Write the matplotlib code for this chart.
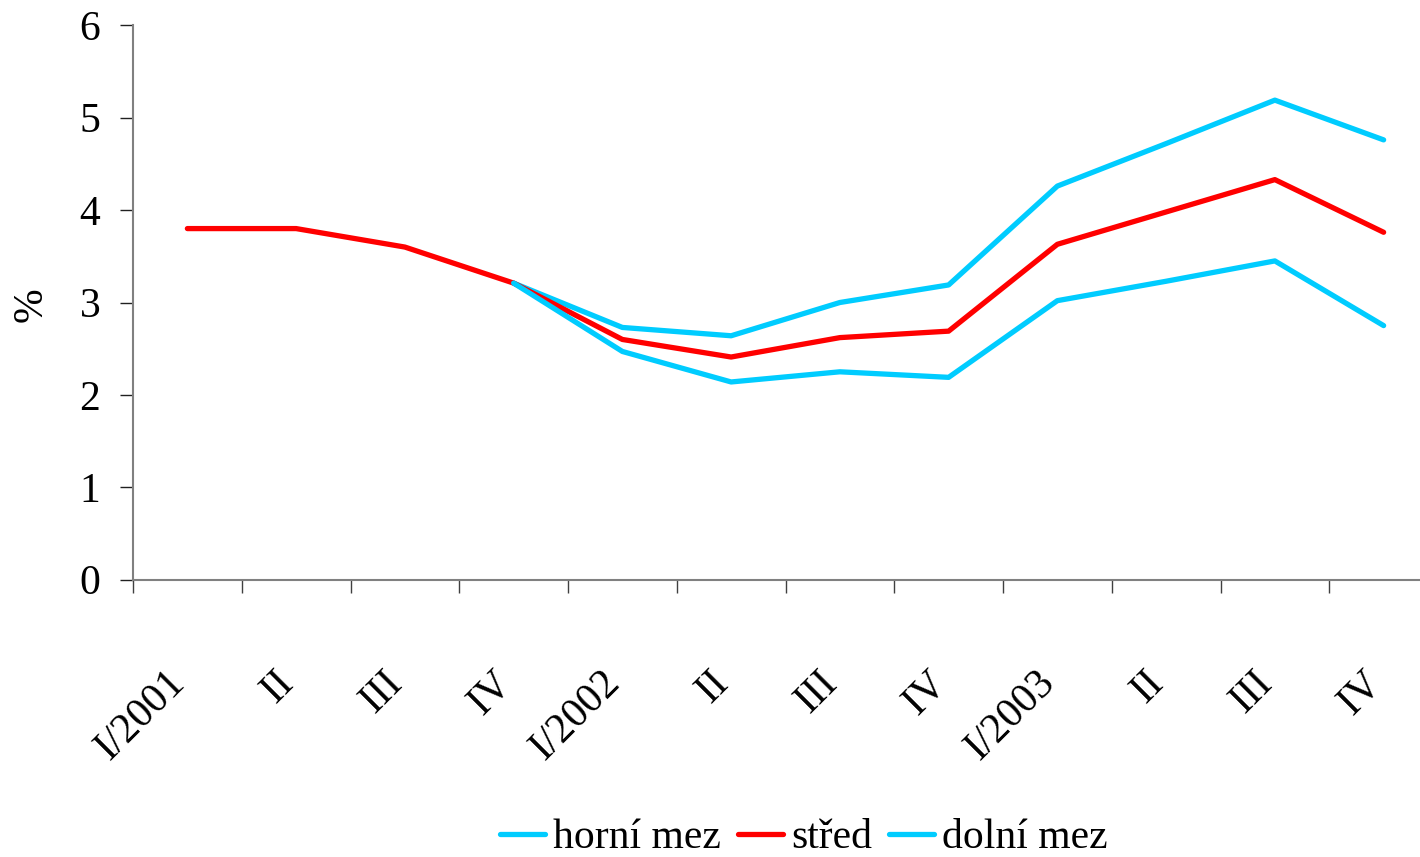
import numpy as np
import matplotlib
matplotlib.use("Agg")
import matplotlib.pyplot as plt
from matplotlib.transforms import ScaledTranslation

# data
quarters = ["I/2001", "II", "III", "IV", "I/2002", "II", "III", "IV",
            "I/2003", "II", "III", "IV"]
horni = [np.nan, np.nan, np.nan, 3.21, 2.73, 2.64, 3.00, 3.19, 4.26, 4.72, 5.19, 4.76]
stred = [3.80, 3.80, 3.60, 3.21, 2.60, 2.41, 2.62, 2.69, 3.63, 3.98, 4.33, 3.76]
dolni = [np.nan, np.nan, np.nan, 3.21, 2.47, 2.14, 2.25, 2.19, 3.02, 3.23, 3.45, 2.75]
yticks = [0, 1, 2, 3, 4, 5, 6]

plt.rcParams['font.family'] = ['Liberation Serif', 'DejaVu Serif']
fs = 30

W, H = 1420, 857
fig = plt.figure(figsize=(W / 100, H / 100), dpi=100)
# plot area in pixel coordinates of the reference
left, right, top, bottom = 133, 1420, 25.3, 579.7
ax = fig.add_axes([left / W, 1 - bottom / H, (right - left) / W, (bottom - top) / H])

x = np.arange(len(quarters))
cyan = '#00CCFF'
red = '#FF0000'
kw = dict(lw=3.8, solid_capstyle='round', solid_joinstyle='round')
ax.plot(x, horni, color=cyan, label='horní mez', **kw)
ax.plot(x, stred, color=red, label='střed', **kw)
ax.plot(x, dolni, color=cyan, label='dolní mez', **kw)

cat_w = 108.75
ax.set_xlim(-0.5, -0.5 + (right - left) / cat_w)
ax.set_ylim(0, 6)
ax.set_yticks(yticks)
ax.set_yticklabels([str(v) for v in yticks], fontsize=fs)
ax.tick_params(axis='y', length=9.5, width=1, color='#202020', pad=14)

ax.set_xticks(x)
ax.set_xticklabels(quarters, fontsize=fs, rotation=45, ha='right',
                   va='center', rotation_mode='anchor')
ax.tick_params(axis='x', which='major', length=0, pad=70)
shift = ScaledTranslation(-8 / 100, 0, fig.dpi_scale_trans)
for lab in ax.get_xticklabels():
    lab.set_transform(lab.get_transform() + shift)
ax.set_xticks(np.arange(len(quarters)) - 0.5, minor=True)
ax.tick_params(axis='x', which='minor', length=9.5, width=1, color='#404040')

for s in ['top', 'right']:
    ax.spines[s].set_visible(False)
for s in ['left', 'bottom']:
    ax.spines[s].set_color('#808080')
    ax.spines[s].set_linewidth(1.5)

fig.text(31 / W, 1 - 305 / H, '%', rotation=90, ha='center', va='center', fontsize=fs)

fig.legend(loc='center', bbox_to_anchor=(804 / W, 1 - 838 / H), ncol=3,
           frameon=False, fontsize=fs, handlelength=1.08, handletextpad=0.19,
           columnspacing=0.41, borderpad=0, borderaxespad=0)

fig.savefig('out.png', dpi=100)
